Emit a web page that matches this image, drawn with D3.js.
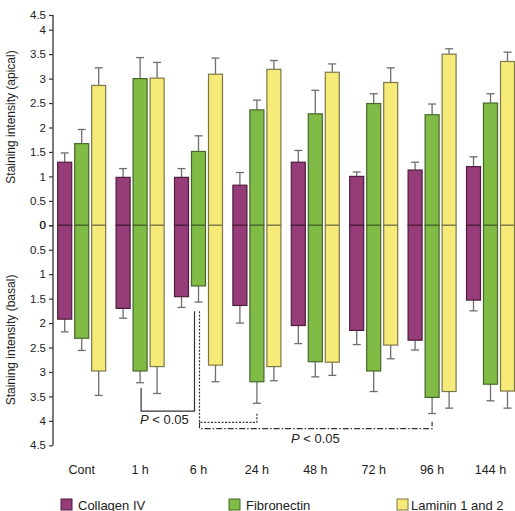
<!DOCTYPE html>
<html>
<head>
<meta charset="utf-8">
<script src="https://cdn.jsdelivr.net/npm/d3@7"></script>
<style>
  html, body { margin: 0; padding: 0; background: #fff; }
  svg { display: block; font-family: "Liberation Sans", Arial, Helvetica, sans-serif; }
</style>
</head>
<body>
<svg id="chart" width="515" height="511"></svg>
<script>
// ---------- data ----------
const categories = ["Cont", "1 h", "6 h", "24 h", "48 h", "72 h", "96 h", "144 h"];
const seriesNames = ["Collagen IV", "Fibronectin", "Laminin 1 and 2"];
const seriesColors = ["#963c78", "#80bb46", "#f6ea78"];
const seriesStrokes = ["#4e1d3d", "#46662a", "#7d774a"];

// apical means and error tops (mean + SD)
const apicalCollagen    = [1.29, 0.98, 0.98, 0.82, 1.29, 1.00, 1.13, 1.20];
const apicalCollagenErr = [1.48, 1.16, 1.16, 1.08, 1.53, 1.09, 1.29, 1.40];
const apicalFibro       = [1.67, 3.00, 1.51, 2.36, 2.28, 2.49, 2.26, 2.50];
const apicalFibroErr    = [1.96, 3.43, 1.83, 2.56, 2.76, 2.69, 2.48, 2.69];
const apicalLaminin     = [2.86, 3.01, 3.09, 3.19, 3.13, 2.92, 3.50, 3.35];
const apicalLamininErr  = [3.22, 3.33, 3.42, 3.37, 3.30, 3.22, 3.61, 3.54];

// basal means and error ends
const basalCollagen    = [1.92, 1.70, 1.46, 1.64, 2.05, 2.15, 2.35, 1.53];
const basalCollagenErr = [2.18, 1.90, 1.68, 2.00, 2.42, 2.44, 2.55, 1.75];
const basalFibro       = [2.31, 2.98, 1.24, 3.20, 2.79, 2.98, 3.52, 3.25];
const basalFibroErr    = [2.56, 3.22, 1.57, 3.64, 3.10, 3.40, 3.85, 3.59];
const basalLaminin     = [2.98, 2.89, 2.86, 2.89, 2.80, 2.45, 3.40, 3.39];
const basalLamininErr  = [3.48, 3.44, 3.20, 3.18, 3.07, 2.73, 3.74, 3.74];

const yTicks = [0, 0.5, 1, 1.5, 2, 2.5, 3, 3.5, 4, 4.5];
const pLabel = "< 0.05";

// ---------- layout ----------
const svg = d3.select("#chart");
const axisX = 53;

const x = d3.scaleBand().domain(categories).range([57.7, 514.5]).paddingInner(0.178).paddingOuter(0);
const xs = d3.scaleBand().domain(seriesNames).range([0, x.bandwidth()]).paddingInner(0.176).paddingOuter(0);

const yA = d3.scaleLinear().domain([0, 4, 4.5]).range([225.3, 29.7, 15]);
const yB = d3.scaleLinear().domain([0, 4.5]).range([225.3, 445.3]);

const apical = [apicalCollagen, apicalFibro, apicalLaminin];
const apicalErr = [apicalCollagenErr, apicalFibroErr, apicalLamininErr];
const basal = [basalCollagen, basalFibro, basalLaminin];
const basalErr = [basalCollagenErr, basalFibroErr, basalLamininErr];

const records = [];
categories.forEach((c, i) => {
  seriesNames.forEach((s, j) => {
    records.push({cat: c, ser: s, j, a: apical[j][i], ae: apicalErr[j][i], b: basal[j][i], be: basalErr[j][i]});
  });
});
const cx = d => x(d.cat) + xs(d.ser) + xs.bandwidth() / 2;
const capW = 4;

// error bars (drawn behind bars)
const eg = svg.append("g").attr("stroke", "#6e6e6e").attr("stroke-width", 1.3);
eg.selectAll("line.ea").data(records).join("line")
  .attr("x1", cx).attr("x2", cx).attr("y1", d => yA(d.a)).attr("y2", d => yA(d.ae));
eg.selectAll("line.eac").data(records).join("line")
  .attr("x1", d => cx(d) - capW).attr("x2", d => cx(d) + capW).attr("y1", d => yA(d.ae)).attr("y2", d => yA(d.ae));
eg.selectAll("line.eb").data(records).join("line")
  .attr("x1", cx).attr("x2", cx).attr("y1", d => yB(d.b)).attr("y2", d => yB(d.be));
eg.selectAll("line.ebc").data(records).join("line")
  .attr("x1", d => cx(d) - capW).attr("x2", d => cx(d) + capW).attr("y1", d => yB(d.be)).attr("y2", d => yB(d.be));

// bars
const bg = svg.append("g");
bg.selectAll("rect.a").data(records).join("rect")
  .attr("x", d => x(d.cat) + xs(d.ser)).attr("width", xs.bandwidth())
  .attr("y", d => yA(d.a)).attr("height", d => yA(0) - yA(d.a))
  .attr("fill", d => seriesColors[d.j]).attr("stroke", d => seriesStrokes[d.j]).attr("stroke-width", 1.2);
bg.selectAll("rect.b").data(records).join("rect")
  .attr("x", d => x(d.cat) + xs(d.ser)).attr("width", xs.bandwidth())
  .attr("y", yB(0)).attr("height", d => yB(d.b) - yB(0))
  .attr("fill", d => seriesColors[d.j]).attr("stroke", d => seriesStrokes[d.j]).attr("stroke-width", 1.2);

// y axes
const axA = d3.axisLeft(yA).tickValues(yTicks).tickSize(4).tickPadding(3).tickFormat(d3.format("~g"));
const axB = d3.axisLeft(yB).tickValues(yTicks).tickSize(4).tickPadding(3).tickFormat(d3.format("~g"));
const ga = svg.append("g").attr("transform", `translate(${axisX},0)`).call(axA);
const gb = svg.append("g").attr("transform", `translate(${axisX},0)`).call(axB);
[ga, gb].forEach(g => {
  g.select(".domain").remove();
  g.selectAll("line").attr("stroke", "#333").attr("stroke-width", 1.2);
  g.selectAll("text").attr("font-size", 11.5).attr("fill", "#222").attr("font-family", "Liberation Sans, Arial, sans-serif");
});
svg.append("line").attr("x1", axisX).attr("x2", axisX).attr("y1", yA(4.5)).attr("y2", yB(4.5))
  .attr("stroke", "#333").attr("stroke-width", 1.3);

// axis titles
svg.append("text").attr("transform", `translate(11,117) rotate(-90)`)
  .attr("text-anchor", "middle").attr("dominant-baseline", "central").attr("font-size", 12).attr("fill", "#222")
  .text("Staining intensity (apical)");
svg.append("text").attr("transform", `translate(11,340) rotate(-90)`)
  .attr("text-anchor", "middle").attr("dominant-baseline", "central").attr("font-size", 12).attr("fill", "#222")
  .text("Staining intensity (basal)");

// category labels
svg.append("g").selectAll("text").data(categories).join("text")
  .attr("x", d => x(d) + x.bandwidth() / 2).attr("y", 474)
  .attr("text-anchor", "middle").attr("font-size", 12.5).attr("fill", "#222").text(d => d);

// significance brackets
const gx = (c, s) => x(c) + xs(s) + xs.bandwidth() / 2;
const fib = seriesNames[1];
const br = svg.append("g").attr("fill", "none").attr("stroke", "#333").attr("stroke-width", 1.2);
br.append("path").attr("d", d3.line()([
  [gx("1 h", fib) + 1, yB(3.33)], [gx("1 h", fib) + 1, yB(3.8)],
  [gx("6 h", fib) - 4, yB(3.8)], [gx("6 h", fib) - 4, yB(1.76)]]));
br.append("path").attr("stroke-dasharray", "2,1.5").attr("d", d3.line()([
  [gx("6 h", fib) + 1, yB(1.76)], [gx("6 h", fib) + 1, yB(4.03)],
  [gx("24 h", fib), yB(4.03)], [gx("24 h", fib), yB(3.85)]]));
br.append("path").attr("stroke-dasharray", "6,2,1.5,2").attr("d", d3.line()([
  [gx("6 h", fib) + 1, yB(4.03)], [gx("6 h", fib) + 1, yB(4.16)],
  [gx("96 h", fib), yB(4.16)], [gx("96 h", fib), yB(4.02)]]));

function pText(px, py) {
  const t = svg.append("text").attr("x", px).attr("y", py).attr("font-size", 13).attr("fill", "#222");
  t.append("tspan").attr("font-style", "italic").text("P");
  t.append("tspan").text(" " + pLabel);
}
pText(140, 424);
pText(291, 443);

// legend
const lg = svg.append("g");
const legX = [61, 229, 397];
seriesNames.forEach((s, j) => {
  lg.append("rect").attr("x", legX[j]).attr("y", 499).attr("width", 11).attr("height", 11)
    .attr("fill", seriesColors[j]).attr("stroke", seriesStrokes[j]).attr("stroke-width", 1);
  lg.append("text").attr("x", legX[j] + (j === 2 ? 14 : 17)).attr("y", 509.5)
    .attr("font-size", 13).attr("fill", "#222").text(s);
});
</script>
</body>
</html>
